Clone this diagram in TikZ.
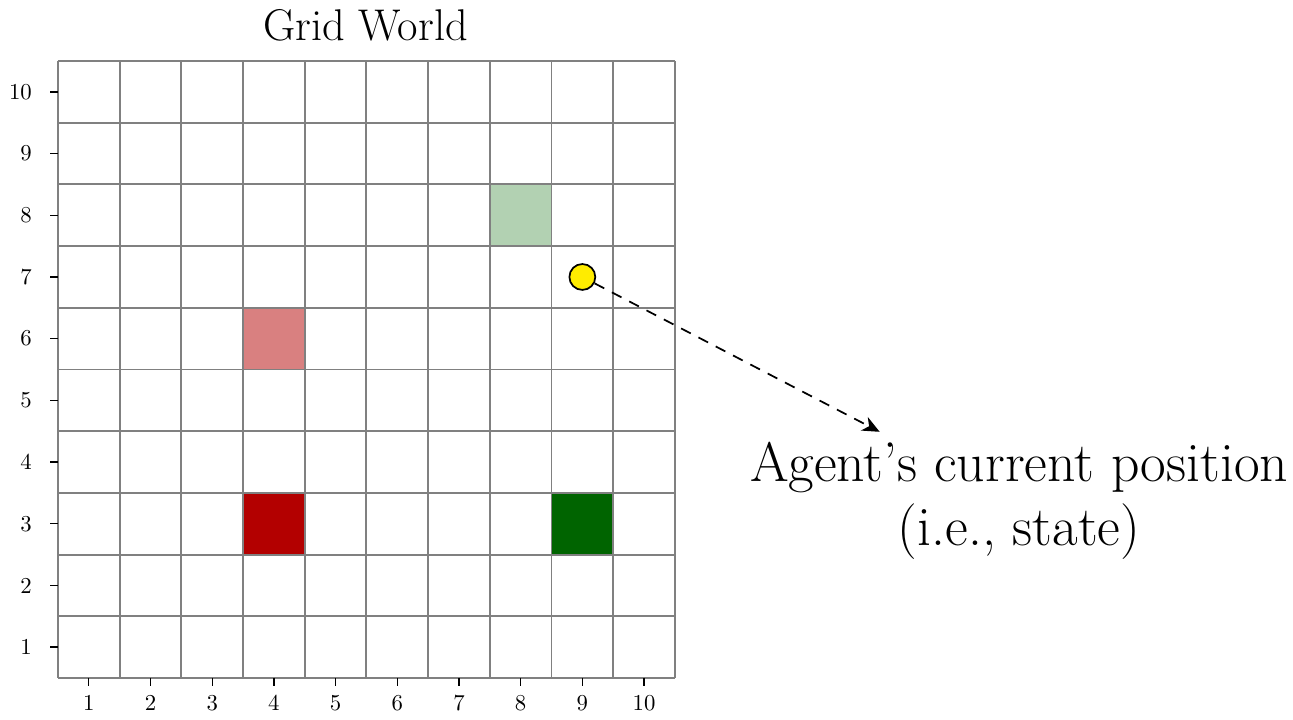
\documentclass[tikz,border=0pt]{standalone}
\usetikzlibrary{arrows.meta}
\definecolor{verdescuro}{RGB}{0,100,0}
\definecolor{rossoscuro}{RGB}{179,0,0}
\definecolor{giallo}{RGB}{255,236,0}
\begin{document}
\begin{tikzpicture}[x=1cm,y=1cm]
        \useasboundingbox (-0.94,-0.68) rectangle (20.02,10.99);

        % Celle colorate
        \fill[verdescuro!30] (7,7) rectangle (8,8);
        \fill[rossoscuro!50] (3,5) rectangle (4,6);
        \fill[rossoscuro] (3,2) rectangle (4,3);
        \fill[verdescuro] (8,2) rectangle (9,3);

        % Griglia
        \draw[gray, line width=0.9pt] (0,0) grid (10,10);

        % Assi
        \foreach \i in {1,...,10} {
            \draw[line width=0.6pt] (\i-0.5,0) -- (\i-0.5,-0.13);
            \draw[line width=0.6pt] (0,\i-0.5) -- (-0.13,\i-0.5);
            \node at (\i-0.5,-0.41) {\fontsize{10.5}{12}\selectfont \i};
            \node[anchor=east] at (-0.3,\i-0.5) {\fontsize{10.5}{12}\selectfont \i};
        }

        % Titolo
        \node[font=\fontsize{20.5}{24}\selectfont] (titolo) at (4.99,10.58) {Grid World};

        % Agente
        \node[circle, draw, thick, fill=giallo, minimum size=0.42cm, inner sep=0pt] (agente) at (8.5,6.5) {};
        \coordinate (punta) at (13.32,3.99);
        \draw[thick, dash pattern=on 5pt off 4pt, -{Stealth[length=8pt,width=7pt,inset=2.5pt]}] (agente) -- (punta);

        \node[align=center, font=\fontsize{25.7}{29.5}\selectfont] (etichetta) at (15.58,2.88)
            {Agent's current position\\ (i.e., state)};
    \end{tikzpicture}
\end{document}
